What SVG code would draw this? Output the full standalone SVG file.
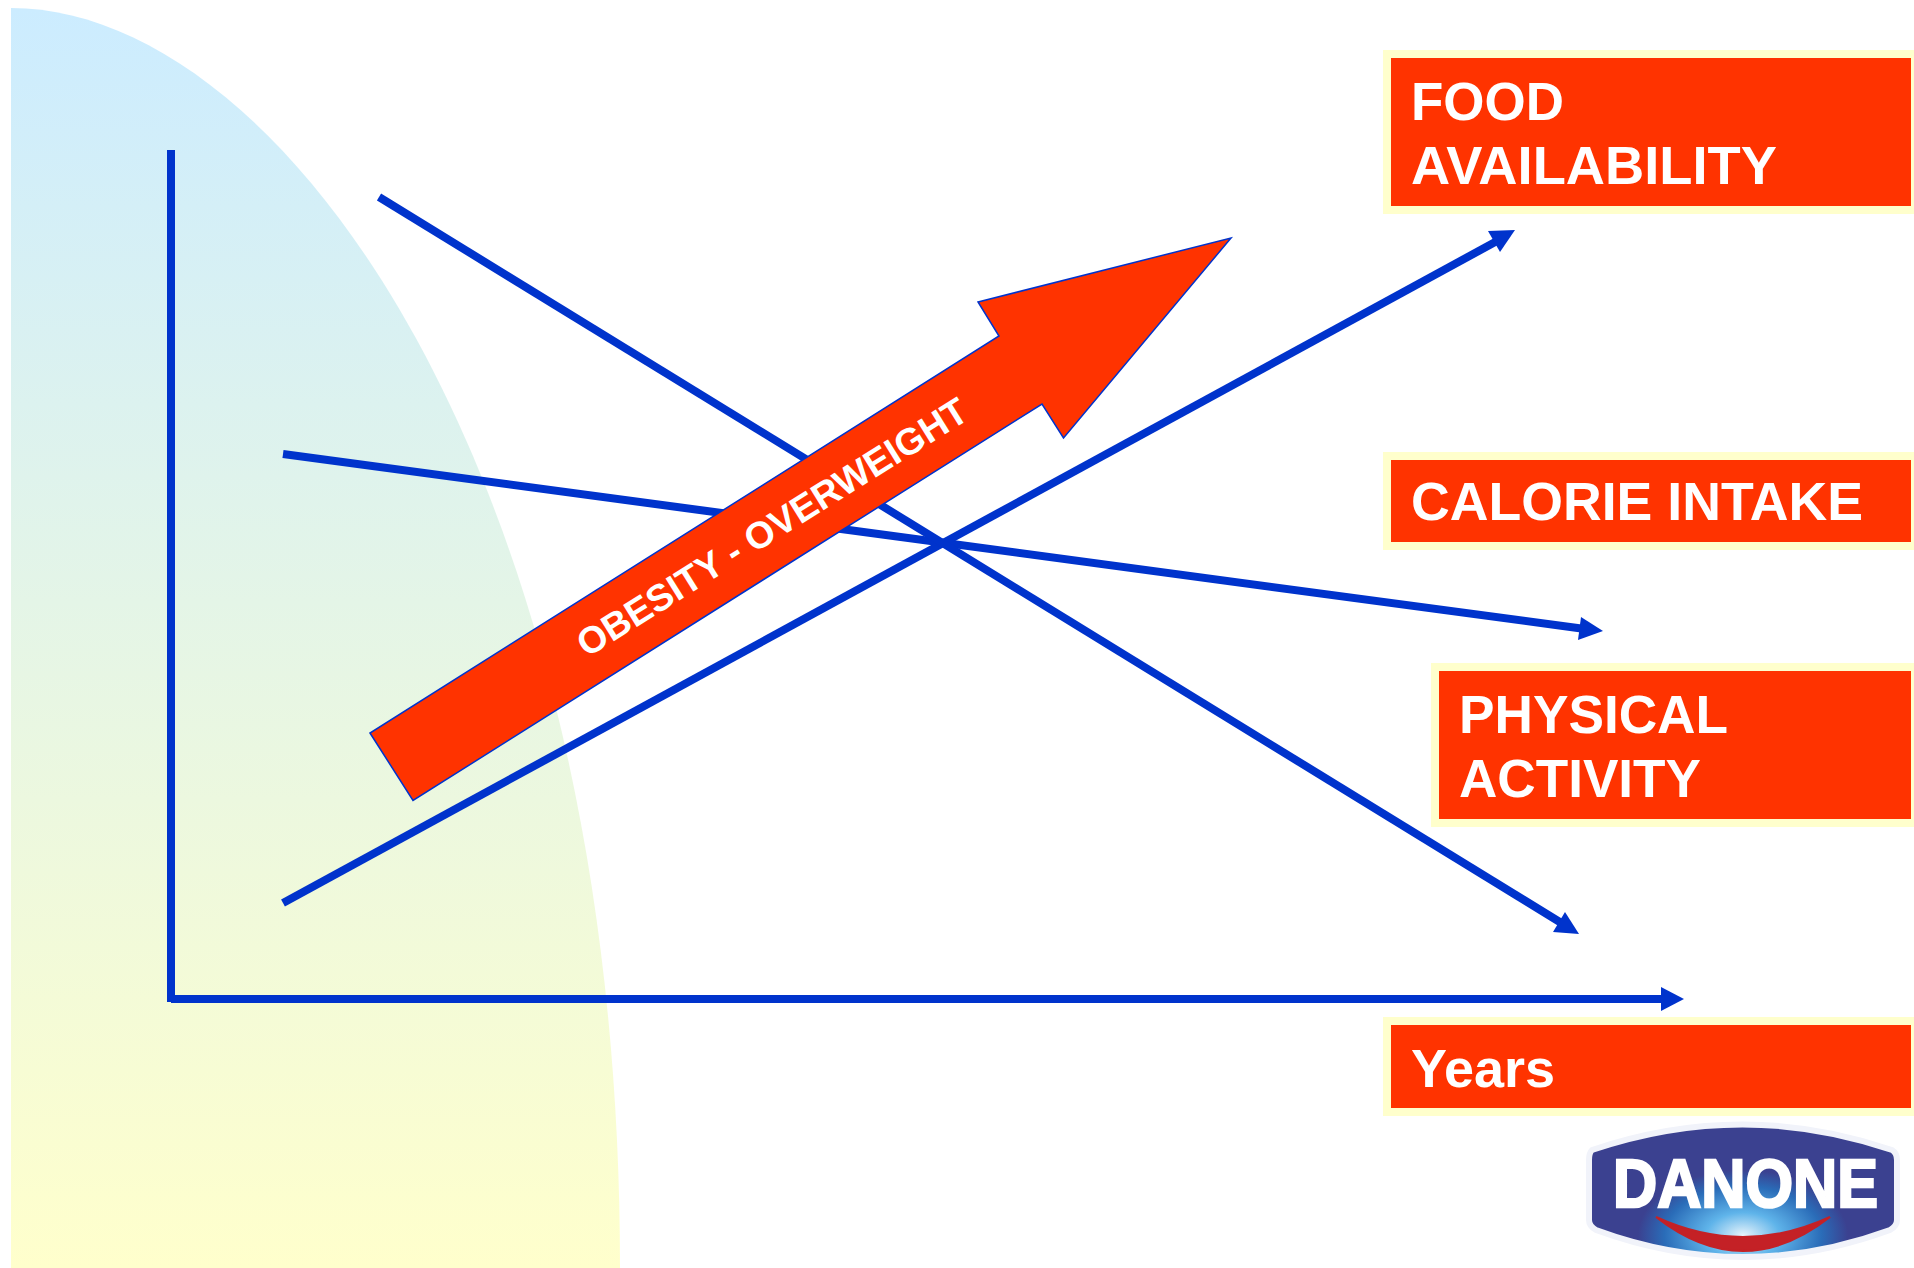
<svg xmlns="http://www.w3.org/2000/svg" width="1914" height="1268" viewBox="0 0 1914 1268">
<style>
.frame{fill:#ffffcc}
.box{fill:#ff3300}
.lbl{font-family:"Liberation Sans",Arial,sans-serif;font-weight:700;font-size:54.5px;fill:#fff}
.conn{stroke:#0033cc;stroke-width:8;fill:none}
.head{fill:#0033cc}
</style>
<defs>
<linearGradient id="bg" x1="0" y1="0" x2="0" y2="1"><stop offset="0" stop-color="#ccecff"/><stop offset="1" stop-color="#ffffcc"/></linearGradient>
<radialGradient id="glow" gradientUnits="userSpaceOnUse" cx="1743" cy="1236" r="105" gradientTransform="translate(0 463) scale(1 .625)"><stop offset="0" stop-color="#e8f4fb"/><stop offset=".35" stop-color="#5fb4ea"/><stop offset=".75" stop-color="#2a6cb8"/><stop offset="1" stop-color="#3b4190"/></radialGradient>
</defs>
<rect width="1914" height="1268" fill="#fff"/>
<path id="background" d="M11 8C285 8 620 480 620 1268L11 1268Z" fill="url(#bg)"/>
<g id="connectors">
<path class="conn" d="M171 150V1002"/>
<path class="conn" d="M171 999H1664"/>
<path class="head" d="M1661 987L1684 999L1661 1011Z"/>
<path class="conn" d="M283 903L1497 241"/>
<path class="head" d="M1488 231L1515 230L1500 252Z"/>
<path class="conn" d="M283 454L1585 629"/>
<path class="head" d="M1581 617L1603 631L1578 640Z"/>
<path class="conn" d="M379 197L1563 924"/>
<path class="head" d="M1565 912L1579 934L1553 932Z"/>
</g>
<g id="obesity-arrow">
<path d="M370 733L413 800.5L1042 404L1063.5 438L1231 238L978 302L999 336Z" fill="#ff3300" stroke="#0033cc" stroke-width="1.5"/>
<text class="lbl" transform="translate(587 658) rotate(-32)" style="font-size:37.5px">OBESITY - OVERWEIGHT</text>
</g>
<g id="food">
<rect class="frame" x="1383" y="50" width="531" height="164"/>
<rect class="box" x="1391" y="58" width="520" height="148"/>
<text class="lbl" x="1411" y="120" textLength="153" lengthAdjust="spacingAndGlyphs">FOOD</text>
<text class="lbl" x="1411" y="184" textLength="366" lengthAdjust="spacingAndGlyphs">AVAILABILITY</text>
</g>
<g id="calorie">
<rect class="frame" x="1383" y="452" width="531" height="98"/>
<rect class="box" x="1391" y="460" width="520" height="82"/>
<text class="lbl" x="1411" y="520" textLength="452" lengthAdjust="spacingAndGlyphs">CALORIE INTAKE</text>
</g>
<g id="physical">
<rect class="frame" x="1431" y="663" width="483" height="164"/>
<rect class="box" x="1439" y="671" width="472" height="148"/>
<text class="lbl" x="1459" y="733" textLength="269" lengthAdjust="spacingAndGlyphs">PHYSICAL</text>
<text class="lbl" x="1459" y="797" textLength="242" lengthAdjust="spacingAndGlyphs">ACTIVITY</text>
</g>
<g id="years">
<rect class="frame" x="1383" y="1017" width="531" height="99"/>
<rect class="box" x="1391" y="1025" width="520" height="83"/>
<text class="lbl" x="1411" y="1087" textLength="144" lengthAdjust="spacingAndGlyphs">Years</text>
</g>
<g id="logo">
<path d="M1592 1150Q1743 1099 1892 1150Q1897 1153 1897 1160V1220Q1897 1226 1890 1230Q1743 1284 1596 1230Q1589 1226 1589 1220V1160Q1589 1153 1592 1150Z" fill="url(#glow)" stroke="#f1f3fa" stroke-width="6"/>
<path d="M1656 1217Q1743 1257 1830 1217Q1743 1285 1656 1217Z" fill="#c42126" stroke="#c42126" stroke-width="2"/>
<text x="1613" y="1207" textLength="265" lengthAdjust="spacingAndGlyphs" stroke="#fff" stroke-width="2.5" style="font-family:'Liberation Sans',Arial,sans-serif;font-weight:700;font-size:68px;fill:#fff">DANONE</text>
</g>
</svg>
